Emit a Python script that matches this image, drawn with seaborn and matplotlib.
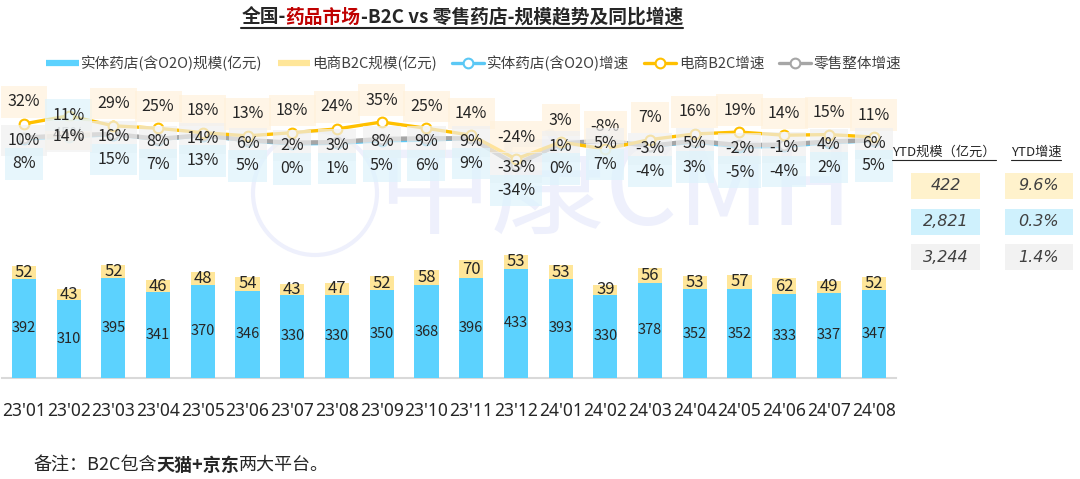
import numpy as np
import pandas as pd
import matplotlib
matplotlib.use('Agg')
import matplotlib.pyplot as plt
import seaborn as sns
from matplotlib.patches import Rectangle, Circle
from matplotlib.lines import Line2D
from matplotlib.transforms import IdentityTransform

# ---------------- data ----------------
months = ["23'01", "23'02", "23'03", "23'04", "23'05", "23'06", "23'07", "23'08", "23'09", "23'10",
          "23'11", "23'12", "24'01", "24'02", "24'03", "24'04", "24'05", "24'06", "24'07", "24'08"]
store_scale = [392, 310, 395, 341, 370, 346, 330, 330, 350, 368, 396, 433, 393, 330, 378, 352, 352, 333, 337, 347]
b2c_scale = [52, 43, 52, 46, 48, 54, 43, 47, 52, 58, 70, 53, 53, 39, 56, 53, 57, 62, 49, 52]
store_growth = [8, 11, 15, 7, 13, 5, 0, 1, 5, 6, 9, -34, 0, 7, -4, 3, -5, -4, 2, 5]
b2c_growth = [32, 45, 29, 25, 18, 13, 18, 24, 35, 25, 14, -24, 3, -8, 7, 16, 19, 14, 15, 11]
total_growth = [10, 14, 16, 8, 14, 6, 2, 3, 8, 9, 9, -33, 1, 5, -3, 5, -2, -1, 4, 6]

ytd_headers = ["YTD规模（亿元）", "YTD增速"]
ytd_scale = ["422", "2,821", "3,244"]
ytd_growth = ["9.6%", "0.3%", "1.4%"]

legend_labels = ["实体药店(含O2O)规模(亿元)", "电商B2C规模(亿元)", "实体药店(含O2O)增速", "电商B2C增速", "零售整体增速"]
title_parts = ["全国-", "药品市场", "-B2C vs 零售药店-规模趋势及同比增速"]
note_parts = ["备注：B2C包含", "天猫+京东", "两大平台。"]

# ---------------- style ----------------
sns.set_theme(style='white')
plt.rcParams['font.family'] = ['Noto Sans CJK SC', 'DejaVu Sans']
plt.rcParams['axes.unicode_minus'] = False

C_BLUE_BAR = '#5CD2FE'
C_YEL_BAR = '#FFE699'
C_BLUE = '#5BC8F5'
C_YEL = '#FFC000'
C_GRAY = '#A6A6A6'
TXT = '#262626'

W, H = 1080, 479
fig = plt.figure(figsize=(W / 100, H / 100), dpi=100)
ID = IdentityTransform()

ax_l, ax_r, ax_b, ax_t = 1.6, 896, 378, 85
ax = fig.add_axes([ax_l / W, (H - ax_b) / H, (ax_r - ax_l) / W, (ax_b - ax_t) / H])
ax.patch.set_visible(False)

df = pd.DataFrame({'month': months, 'store': store_scale, 'b2c': b2c_scale})
df['total'] = df['store'] + df['b2c']

sns.barplot(data=df, x='month', y='total', color=C_YEL_BAR, width=0.54, saturation=1,
            linewidth=0, ax=ax, zorder=2)
sns.barplot(data=df, x='month', y='store', color=C_BLUE_BAR, width=0.54, saturation=1,
            linewidth=0, ax=ax, zorder=3)
ax.set_ylim(0, 1160)
ax.set_xlim(-0.5, len(months) - 0.5)
ax.set_xlabel('')
ax.set_ylabel('')
ax.set_yticks([])
for s in ['top', 'left', 'right']:
    ax.spines[s].set_visible(False)
ax.spines['bottom'].set_color('#D9D9D9')
ax.spines['bottom'].set_linewidth(1.5)
ax.tick_params(axis='x', length=0, pad=17, labelsize=12.5, colors=TXT)
for tl in ax.get_xticklabels():
    tl.set_family('Noto Sans')

for i, (s, b) in enumerate(zip(store_scale, b2c_scale)):
    ax.text(i, s / 2, str(s), ha='center', va='center', fontsize=10.5, color=TXT, zorder=5)
    ax.text(i, s + b / 2, str(b), ha='center', va='center', fontsize=12, color=TXT, zorder=5)

# growth lines
ax2 = ax.twinx()
ax2.patch.set_visible(False)
ax2.set_ylim(-373, 94)
ax2.set_yticks([])
for s in ax2.spines.values():
    s.set_visible(False)
x = np.arange(len(months))
for vals, col, lw in [(store_growth, C_BLUE, 2.4), (total_growth, C_GRAY, 3.2), (b2c_growth, C_YEL, 2.4)]:
    sns.lineplot(x=x, y=vals, ax=ax2, color=col, linewidth=lw, marker='o', markersize=7,
                 markerfacecolor='white', markeredgecolor=col, markeredgewidth=1.5, zorder=4)

def lab(i, v, dy_px, fc, zo):
    ax2.annotate(f"{v}%", (i, v), xytext=(0, -dy_px * 0.72), textcoords='offset points',
                 ha='center', va='center', fontsize=11.5, color=TXT, zorder=zo,
                 bbox=dict(boxstyle='square,pad=0.45', fc=fc, ec='none', alpha=0.7))

for i in range(len(months)):
    if i == 1:
        lab(i, b2c_growth[i], 19, '#FFF2DC', 6)
        lab(i, store_growth[i], -22, '#DDF3FC', 6)
        lab(i, total_growth[i], 1, '#F2F2F2', 7)
    else:
        lab(i, b2c_growth[i], -22, '#FFF2DC', 6)
        lab(i, total_growth[i], 3, '#F0F0F0', 6)
        lab(i, store_growth[i], 25, '#DDF3FC', 6)

# legend
handles = [Line2D([], [], color=C_BLUE_BAR, lw=4.5, solid_capstyle='butt'),
           Line2D([], [], color=C_YEL_BAR, lw=4.5, solid_capstyle='butt'),
           Line2D([], [], color=C_BLUE, lw=2.4, marker='o', markersize=7, markerfacecolor='white', markeredgewidth=1.5),
           Line2D([], [], color=C_YEL, lw=2.4, marker='o', markersize=7, markerfacecolor='white', markeredgewidth=1.5),
           Line2D([], [], color=C_GRAY, lw=2.4, marker='o', markersize=7, markerfacecolor='white', markeredgewidth=1.5)]
fig.legend(handles, legend_labels, loc='center', bbox_to_anchor=(474 / W, 1 - 63 / H), ncol=5,
           frameon=False, fontsize=10.5, handlelength=2.2, columnspacing=1.0, handletextpad=0.2,
           labelcolor='#404040')

# watermark
fig.text(615, H - 192, '中康CMH', transform=ID, fontsize=82, style='italic',
         color='#EEF0FC', ha='center', va='center', zorder=-2)
fig.add_artist(Circle((315, H - 193), 62, transform=ID, fill=False, ec='#EEF0FC', lw=3, zorder=-2))

# right table
def cbox(x0, y0, w, h, fc):
    fig.add_artist(Rectangle((x0, H - y0 - h), w, h, transform=ID, fc=fc, ec='none'))

fig.canvas.draw()
r = fig.canvas.get_renderer()

def underline(t, col, lw=1.0, gap=2):
    bb = t.get_window_extent(r)
    fig.add_artist(Line2D([bb.x0, bb.x1], [bb.y0 - gap, bb.y0 - gap], transform=ID, color=col, lw=lw))

h1 = fig.text(944, H - 152, ytd_headers[0], transform=ID, ha='center', va='center', fontsize=9.5, color=TXT)
h2 = fig.text(1036, H - 152, ytd_headers[1], transform=ID, ha='center', va='center', fontsize=9.5, color=TXT)
underline(h1, TXT, 0.8, 1)
underline(h2, TXT, 0.8, 1)
row_cols = ['#FFF2CC', '#CFF1FD', '#F2F2F2']
row_y = [173, 209, 244]
for k in range(3):
    cbox(911, row_y[k], 69, 26, row_cols[k])
    cbox(1005, row_y[k], 68, 26, row_cols[k])
    fig.text(945.5, H - row_y[k] - 13, ytd_scale[k], transform=ID, ha='center', va='center',
             fontsize=11.5, style='italic', color='#404040', family='DejaVu Sans')
    fig.text(1039, H - row_y[k] - 13, ytd_growth[k], transform=ID, ha='center', va='center',
             fontsize=11.5, style='italic', color='#404040', family='DejaVu Sans')

# title with coloured part + underline
def rich(parts, colors, weights, x_start, y, fs, center=False):
    texts = []
    cur = x_start
    for p, c, w in zip(parts, colors, weights):
        t = fig.text(cur, y, p, transform=ID, ha='left', va='center', fontsize=fs, color=c, fontweight=w)
        bb = t.get_window_extent(r)
        cur = bb.x1
        texts.append(t)
    if center:
        total = cur - x_start
        for t in texts:
            px, py = t.get_position()
            t.set_position((px - total / 2, py))
    return texts

tt = rich(title_parts, [TXT, '#C00000', TXT], ['bold', 'bold', 'bold'], 462, H - 17, 13.5, center=True)
fig.canvas.draw()
bb0 = tt[0].get_window_extent(r)
bb2 = tt[-1].get_window_extent(r)
fig.add_artist(Line2D([bb0.x0, bb2.x1], [bb0.y0 - 1, bb0.y0 - 1], transform=ID, color=TXT, lw=1.5))

rich(note_parts, [TXT, TXT, TXT], ['normal', 'bold', 'normal'], 33, H - 465, 13)

fig.savefig('out.png', dpi=100)
